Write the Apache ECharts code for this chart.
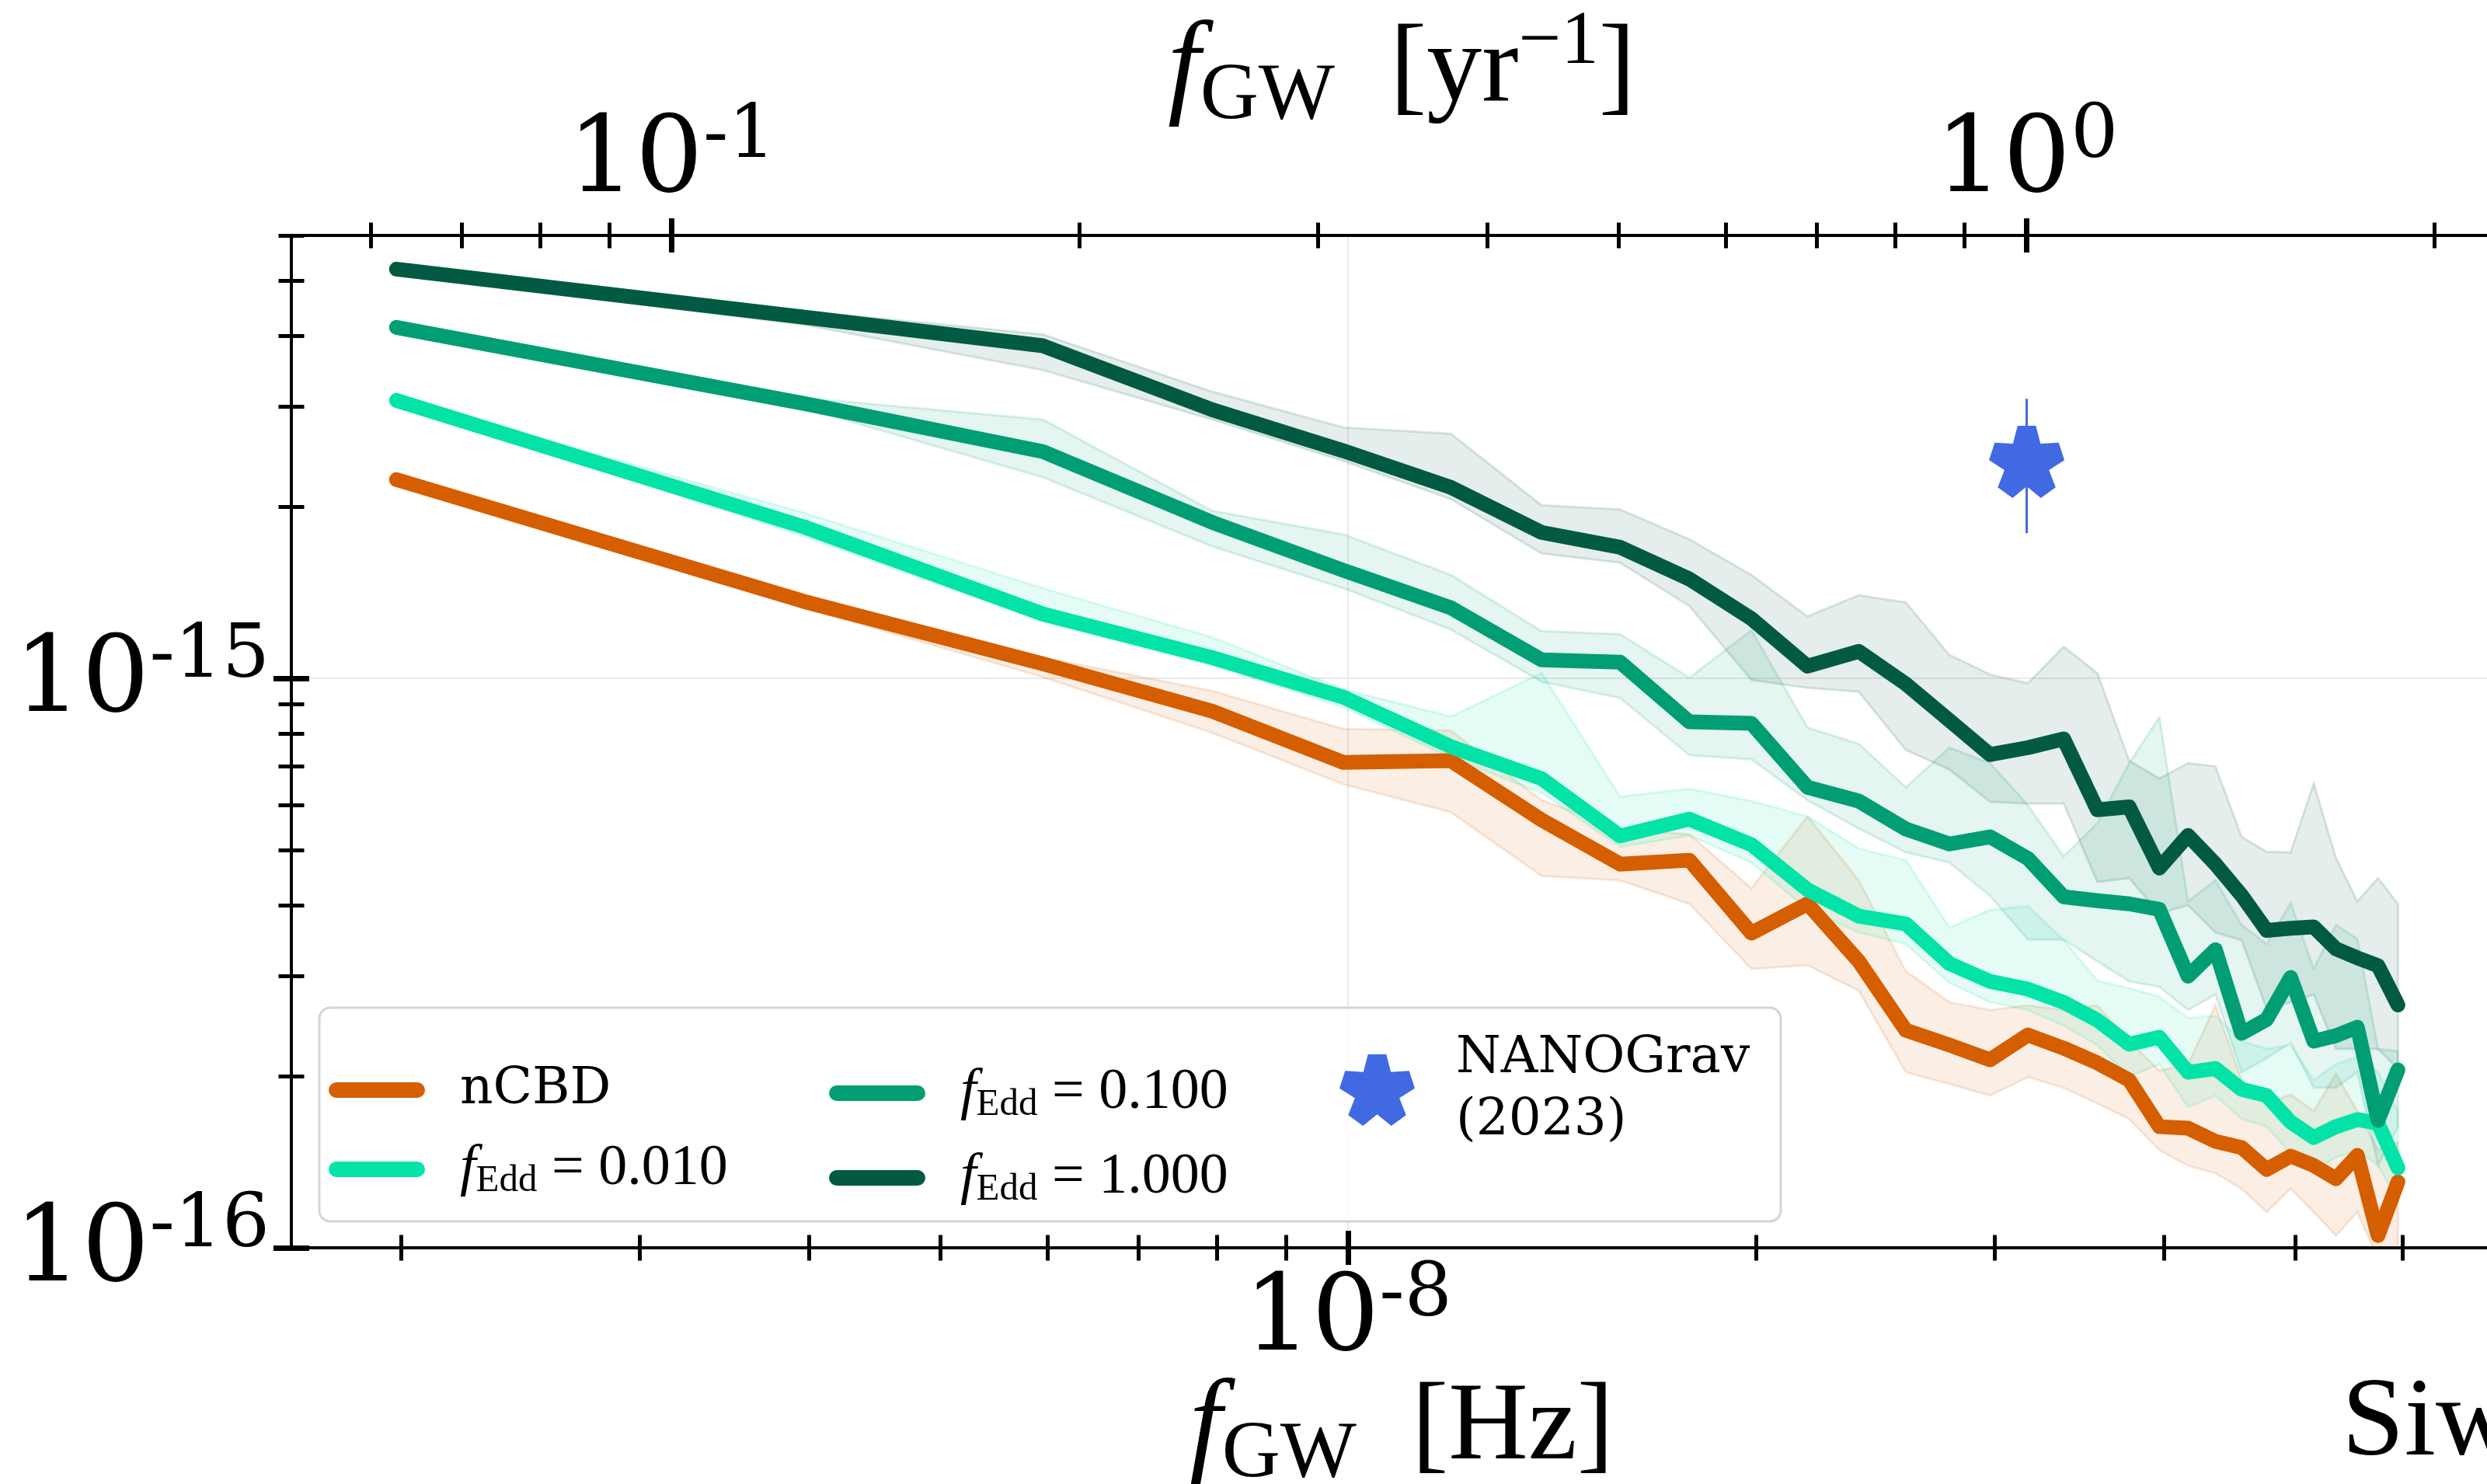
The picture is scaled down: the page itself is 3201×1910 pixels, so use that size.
<!DOCTYPE html>
<html><head><meta charset="utf-8">
<script src="https://cdn.jsdelivr.net/npm/echarts@6/dist/echarts.min.js"></script>
<style>html,body{margin:0;padding:0;background:#fff}#c{width:3201px;height:1910px}</style>
</head><body><div id="c"></div>
<script>
// ---------------- data ----------------
const freqHz = [1.985e-9, 3.970e-9, 5.955e-9, 7.940e-9, 9.925e-9, 11.91e-9, 13.895e-9, 15.88e-9, 17.865e-9, 19.85e-9,
  21.835e-9, 23.82e-9, 25.805e-9, 27.79e-9, 29.775e-9, 31.76e-9, 33.745e-9, 35.73e-9, 37.715e-9, 39.70e-9,
  41.685e-9, 43.67e-9, 45.655e-9, 47.64e-9, 49.625e-9, 51.61e-9, 53.595e-9, 55.58e-9, 57.565e-9, 59.55e-9];

const hc_nCBD = [2.235e-15, 1.365e-15, 1.061e-15, 0.876e-15, 0.712e-15, 0.717e-15, 0.5645e-15, 0.472e-15, 0.4795e-15, 0.357e-15,
  0.402e-15, 0.3187e-15, 0.241e-15, 0.227e-15, 0.2139e-15, 0.2365e-15, 0.2242e-15, 0.2112e-15, 0.1971e-15, 0.1632e-15,
  0.1622e-15, 0.1538e-15, 0.150e-15, 0.1373e-15, 0.1449e-15, 0.1395e-15, 0.1322e-15, 0.1453e-15, 0.1051e-15, 0.1306e-15];
const lo_nCBD = [2.20e-15, 1.331e-15, 1.006e-15, 0.803e-15, 0.652e-15, 0.5825e-15, 0.450e-15, 0.442e-15, 0.402e-15, 0.309e-15,
  0.3137e-15, 0.283e-15, 0.2034e-15, 0.194e-15, 0.1851e-15, 0.1996e-15, 0.191e-15, 0.1794e-15, 0.1684e-15, 0.1485e-15,
  0.1395e-15, 0.1352e-15, 0.127e-15, 0.1156e-15, 0.127e-15, 0.1156e-15, 0.1051e-15, 0.1156e-15, 0.0957e-15, 0.0987e-15];
const hi_nCBD = [2.27e-15, 1.391e-15, 1.088e-15, 0.951e-15, 0.815e-15, 0.810e-15, 0.611e-15, 0.545e-15, 0.532e-15, 0.428e-15,
  0.572e-15, 0.442e-15, 0.306e-15, 0.270e-15, 0.2616e-15, 0.2665e-15, 0.2616e-15, 0.2665e-15, 0.2306e-15, 0.2047e-15,
  0.210e-15, 0.2665e-15, 0.197e-15, 0.1794e-15, 0.1857e-15, 0.1738e-15, 0.202e-15, 0.1738e-15, 0.1485e-15, 0.1533e-15];

const hc_f001 = [3.079e-15, 1.845e-15, 1.298e-15, 1.088e-15, 0.927e-15, 0.759e-15, 0.667e-15, 0.529e-15, 0.566e-15, 0.5105e-15,
  0.4255e-15, 0.3825e-15, 0.3706e-15, 0.3157e-15, 0.2937e-15, 0.2847e-15, 0.2698e-15, 0.2511e-15, 0.2278e-15, 0.2343e-15,
  0.2034e-15, 0.2065e-15, 0.1898e-15, 0.1851e-15, 0.1663e-15, 0.1562e-15, 0.1632e-15, 0.1680e-15, 0.1654e-15, 0.1382e-15];
const lo_f001 = [3.05e-15, 1.777e-15, 1.258e-15, 1.055e-15, 0.890e-15, 0.726e-15, 0.630e-15, 0.506e-15, 0.530e-15, 0.475e-15,
  0.393e-15, 0.358e-15, 0.3415e-15, 0.292e-15, 0.270e-15, 0.2616e-15, 0.2456e-15, 0.227e-15, 0.200e-15, 0.210e-15,
  0.1766e-15, 0.1851e-15, 0.1684e-15, 0.1632e-15, 0.1463e-15, 0.1373e-15, 0.144e-15, 0.1485e-15, 0.1395e-15, 0.1211e-15];
const hi_f001 = [3.11e-15, 1.953e-15, 1.44e-15, 1.181e-15, 0.957e-15, 0.857e-15, 1.022e-15, 0.620e-15, 0.640e-15, 0.609e-15,
  0.572e-15, 0.5027e-15, 0.4795e-15, 0.365e-15, 0.392e-15, 0.398e-15, 0.347e-15, 0.2947e-15, 0.2856e-15, 0.276e-15,
  0.2533e-15, 0.2557e-15, 0.2306e-15, 0.2235e-15, 0.227e-15, 0.197e-15, 0.210e-15, 0.2166e-15, 0.2034e-15, 0.1738e-15];

const hc_f01 = [4.137e-15, 3.04e-15, 2.503e-15, 1.880e-15, 1.548e-15, 1.331e-15, 1.078e-15, 1.068e-15, 0.839e-15, 0.834e-15,
  0.644e-15, 0.609e-15, 0.544e-15, 0.512e-15, 0.527e-15, 0.4826e-15, 0.4135e-15, 0.407e-15, 0.402e-15, 0.393e-15,
  0.300e-15, 0.334e-15, 0.238e-15, 0.2518e-15, 0.2984e-15, 0.2306e-15, 0.2358e-15, 0.2441e-15, 0.1674e-15, 0.2053e-15];
const lo_f01 = [4.07e-15, 2.985e-15, 2.256e-15, 1.706e-15, 1.44e-15, 1.219e-15, 0.987e-15, 0.924e-15, 0.733e-15, 0.721e-15,
  0.611e-15, 0.545e-15, 0.495e-15, 0.475e-15, 0.415e-15, 0.348e-15, 0.348e-15, 0.3187e-15, 0.2937e-15, 0.2873e-15,
  0.2616e-15, 0.2785e-15, 0.2034e-15, 0.2153e-15, 0.2292e-15, 0.191e-15, 0.191e-15, 0.2034e-15, 0.1395e-15, 0.1632e-15];
const hi_f01 = [4.20e-15, 3.11e-15, 2.85e-15, 1.97e-15, 1.79e-15, 1.52e-15, 1.211e-15, 1.196e-15, 1.003e-15, 1.215e-15,
  0.820e-15, 0.768e-15, 0.644e-15, 0.756e-15, 0.710e-15, 0.599e-15, 0.487e-15, 0.557e-15, 0.710e-15, 0.855e-15,
  0.406e-15, 0.442e-15, 0.369e-15, 0.3415e-15, 0.4035e-15, 0.309e-15, 0.369e-15, 0.349e-15, 0.2235e-15, 0.2215e-15];

const hc_f1 = [5.236e-15, 4.31e-15, 3.84e-15, 2.965e-15, 2.51e-15, 2.166e-15, 1.805e-15, 1.70e-15, 1.495e-15, 1.274e-15,
  1.051e-15, 1.116e-15, 0.978e-15, 0.844e-15, 0.735e-15, 0.756e-15, 0.783e-15, 0.588e-15, 0.595e-15, 0.4646e-15,
  0.530e-15, 0.472e-15, 0.416e-15, 0.361e-15, 0.364e-15, 0.366e-15, 0.335e-15, 0.323e-15, 0.313e-15, 0.267e-15];
const lo_f1 = [5.14e-15, 4.18e-15, 3.48e-15, 2.85e-15, 2.41e-15, 2.066e-15, 1.658e-15, 1.597e-15, 1.34e-15, 0.994e-15,
  0.963e-15, 0.948e-15, 0.749e-15, 0.692e-15, 0.607e-15, 0.603e-15, 0.603e-15, 0.439e-15, 0.446e-15, 0.387e-15,
  0.3996e-15, 0.358e-15, 0.347e-15, 0.263e-15, 0.270e-15, 0.2785e-15, 0.2235e-15, 0.2235e-15, 0.2235e-15, 0.2065e-15];
const hi_f1 = [5.34e-15, 4.42e-15, 4.02e-15, 3.19e-15, 2.76e-15, 2.69e-15, 2.015e-15, 1.98e-15, 1.755e-15, 1.52e-15,
  1.285e-15, 1.40e-15, 1.36e-15, 1.10e-15, 1.016e-15, 0.981e-15, 1.137e-15, 1.022e-15, 0.717e-15, 0.667e-15,
  0.710e-15, 0.701e-15, 0.527e-15, 0.496e-15, 0.495e-15, 0.654e-15, 0.484e-15, 0.406e-15, 0.446e-15, 0.402e-15];

// NANOGrav (2023) point: f = 1/yr
const ng_freq = [3.169e-8];
const ng_amp = [2.4e-15];
const ng_err_lo = [1.8e-15];
const ng_err_hi = [3.1e-15];

// axis ranges and ticks
const X_MIN = 1.6605e-9, X_MAX = 6.928e-8;
const Y_MIN = 1e-16, Y_MAX = 6e-15;
const YEAR_S = 3.15576e7;
const bottomMajor = [1e-8];
const bottomMinor = [2e-9, 3e-9, 4e-9, 5e-9, 6e-9, 7e-9, 8e-9, 9e-9, 2e-8, 3e-8, 4e-8, 5e-8, 6e-8];
const topMajor = [0.1, 1];
const topMinor = [0.06, 0.07, 0.08, 0.09, 0.2, 0.3, 0.4, 0.5, 0.6, 0.7, 0.8, 0.9, 2];
const leftMajor = [1e-16, 1e-15];
const leftMinor = [2e-16, 3e-16, 4e-16, 5e-16, 6e-16, 7e-16, 8e-16, 9e-16, 2e-15, 3e-15, 4e-15, 5e-15, 6e-15];

// ---------------- styles ----------------
const C_NCBD = '#D55E00', C_001 = '#03E3A8', C_01 = '#029E73', C_1 = '#035A42', C_NG = '#4169E1';
function rgba(hex, a) {
  const n = parseInt(hex.slice(1), 16);
  return 'rgba(' + ((n >> 16) & 255) + ',' + ((n >> 8) & 255) + ',' + (n & 255) + ',' + a + ')';
}
function starPath() {
  const R = 50, r = 31, d = 14 * Math.PI / 180, pts = [];
  for (let i = 0; i < 5; i++) {
    const a = -Math.PI / 2 + i * 2 * Math.PI / 5;
    pts.push([R * Math.cos(a - d), R * Math.sin(a - d)]);
    pts.push([R * Math.cos(a + d), R * Math.sin(a + d)]);
    const b = a + Math.PI / 5;
    pts.push([r * Math.cos(b), r * Math.sin(b)]);
  }
  return 'path://M' + pts.map(p => (p[0] + 50).toFixed(2) + ',' + (p[1] + 50).toFixed(2)).join('L') + 'Z';
}
const STAR = starPath();
const PILL = 'path://M10,0L114,0A10,10,0,0,1,114,20L10,20A10,10,0,0,1,10,0Z';

const TICK_FONT = 'DejaVu Serif';
const tickRich = {
  b: {fontFamily: TICK_FONT, fontSize: 137, lineHeight: 150, verticalAlign: 'bottom', color: '#000'},
  s: {fontFamily: TICK_FONT, fontSize: 96, lineHeight: 96, verticalAlign: 'top', color: '#000'}
};
function powLabel(v) {
  const e = Math.round(Math.log10(v));
  return '{b|10}{s|' + e + '}';
}

function mainAxis(pos, min, max, labels, margin, split) {
  return {
    type: 'log', position: pos, min: min, max: max, logBase: 10,
    axisLine: {show: true, onZero: false, lineStyle: {color: '#000', width: 4}},
    axisTick: {show: false, customValues: labels},
    minorTick: {show: false},
    axisLabel: {show: true, customValues: labels, formatter: powLabel, margin: margin, rich: tickRich, color: '#000'},
    splitLine: {show: split, lineStyle: {color: '#e9e9e9', width: 2}},
    minorSplitLine: {show: false}
  };
}
function tickAxis(pos, min, max, vals, half, width) {
  return {
    type: 'log', position: pos, min: min, max: max, logBase: 10, offset: -half,
    axisLine: {show: false, onZero: false},
    axisTick: {show: true, inside: false, length: 2 * half, customValues: vals, lineStyle: {color: '#000', width: width}},
    minorTick: {show: false},
    axisLabel: {show: false},
    splitLine: {show: false},
    minorSplitLine: {show: false}
  };
}

function bandSeries(lo, hi, color) {
  return {
    type: 'custom', xAxisIndex: 0, yAxisIndex: 0, z: 1, silent: true, clip: true,
    data: freqHz.map((f, i) => [f, lo[i], hi[i]]),
    encode: {x: 0, y: [1, 2]},
    renderItem: function (params, api) {
      if (params.dataIndex !== 0) return null;
      const pts = [];
      for (let i = 0; i < freqHz.length; i++) pts.push(api.coord([freqHz[i], hi[i]]));
      for (let i = freqHz.length - 1; i >= 0; i--) pts.push(api.coord([freqHz[i], lo[i]]));
      return {type: 'polygon', shape: {points: pts},
        style: {fill: rgba(color, 0.1), stroke: rgba(color, 0.14), lineWidth: 3}};
    }
  };
}
function lineSeries(name, vals, color) {
  return {
    name: name, type: 'line', xAxisIndex: 0, yAxisIndex: 0, z: 2, silent: true,
    data: freqHz.map((f, i) => [f, vals[i]]),
    showSymbol: false, symbol: 'none', color: color,
    itemStyle: {color: color},
    lineStyle: {color: color, width: 19, cap: 'round', join: 'round'}
  };
}

const LEG_TEXT = {
  'nCBD': '{n|nCBD}',
  'fEdd=0.010': '{it|f}{sub|Edd}{m| = 0.010}',
  'fEdd=0.100': '{it|f}{sub|Edd}{m| = 0.100}',
  'fEdd=1.000': '{it|f}{sub|Edd}{m| = 1.000}',
  'NANOGrav': '{n|NANOGrav}\n{n|(2023)}'
};
const legRich = {
  n: {fontFamily: 'DejaVu Serif', fontSize: 66, lineHeight: 80, color: '#000'},
  it: {fontFamily: 'Liberation Serif', fontStyle: 'italic', fontSize: 74, lineHeight: 80, color: '#000'},
  sub: {fontFamily: 'Liberation Serif', fontSize: 49, lineHeight: 46, verticalAlign: 'bottom', color: '#000'},
  m: {fontFamily: 'Liberation Serif', fontSize: 74, lineHeight: 80, color: '#000'}
};
function legend(items, left, top, w, h, gap, padLeft) {
  return {
    data: items, orient: 'vertical', left: left, top: top, itemWidth: w, itemHeight: h, itemGap: gap,
    padding: 0, selectedMode: false, z: 5,
    itemStyle: {borderWidth: 0, opacity: 1},
    formatter: name => LEG_TEXT[name],
    textStyle: {rich: legRich, padding: [0, 0, 0, padLeft], color: '#000'}
  };
}

const titleRich = {
  f: {fontFamily: 'Liberation Serif', fontStyle: 'italic', fontSize: 150, lineHeight: 170, verticalAlign: 'middle', fill: '#000'},
  sub: {fontFamily: 'Liberation Serif', fontSize: 104, lineHeight: 97, verticalAlign: 'bottom', fill: '#000'},
  sup: {fontFamily: 'Liberation Serif', fontSize: 97, lineHeight: 90, verticalAlign: 'top', fill: '#000'},
  n: {fontFamily: 'Liberation Serif', fontSize: 142, lineHeight: 170, verticalAlign: 'middle', fill: '#000'}
};

const chart = echarts.init(document.getElementById('c'), null, {renderer: 'canvas', width: 3201, height: 1910});
chart.setOption({
  animation: false,
  backgroundColor: '#ffffff',
  grid: {left: 375, right: 0, top: 303, bottom: 304, containLabel: false},
  xAxis: [
    mainAxis('bottom', X_MIN, X_MAX, bottomMajor, 14, true),
    tickAxis('bottom', X_MIN, X_MAX, bottomMajor, 22, 7),
    tickAxis('bottom', X_MIN, X_MAX, bottomMinor, 16.5, 5),
    mainAxis('top', X_MIN * YEAR_S, X_MAX * YEAR_S, topMajor, 24, false),
    tickAxis('top', X_MIN * YEAR_S, X_MAX * YEAR_S, topMajor, 22, 7),
    tickAxis('top', X_MIN * YEAR_S, X_MAX * YEAR_S, topMinor, 16.5, 5)
  ],
  yAxis: [
    mainAxis('left', Y_MIN, Y_MAX, leftMajor, 28, true),
    tickAxis('left', Y_MIN, Y_MAX, leftMajor, 23, 7),
    tickAxis('left', Y_MIN, Y_MAX, leftMinor, 16.5, 5)
  ],
  legend: [
    legend([{name: 'nCBD', icon: PILL}, {name: 'fEdd=0.010', icon: PILL}], 423, 1370, 124, 20, 32, 40),
    legend([{name: 'fEdd=0.100', icon: PILL}, {name: 'fEdd=1.000', icon: PILL}], 1067, 1370, 124, 20, 32, 40),
    legend([{name: 'NANOGrav', icon: STAR}], 1724, 1330, 97, 93, 0, 48)
  ],
  graphic: [
    {type: 'rect', z: 4, silent: true,
      shape: {x: 411, y: 1297, width: 1881, height: 275, r: 14},
      style: {fill: 'rgba(255,255,255,0.8)', stroke: '#d5d5d5', lineWidth: 3}},
    {type: 'text', z: 6, x: 1804, y: 92, silent: true,
      style: {text: '{f|f}{sub|GW}{n|  [yr}{sup|\u22121}{n|]}', rich: titleRich, align: 'center', verticalAlign: 'middle', textAlign: 'center', textVerticalAlign: 'middle'}},
    {type: 'text', z: 6, x: 1804, y: 1840, silent: true,
      style: {text: '{f|f}{sub|GW}{n|  [Hz]}', rich: titleRich, align: 'center', verticalAlign: 'middle', textAlign: 'center', textVerticalAlign: 'middle'}},
    {type: 'text', z: 6, x: 3014, y: 1834, silent: true,
      style: {text: 'Siw', font: '145px "Liberation Serif"', fill: '#000', align: 'left', verticalAlign: 'middle', textAlign: 'left', textVerticalAlign: 'middle'}}
  ],
  series: [
    bandSeries(lo_nCBD, hi_nCBD, C_NCBD),
    bandSeries(lo_f001, hi_f001, C_001),
    bandSeries(lo_f01, hi_f01, C_01),
    bandSeries(lo_f1, hi_f1, C_1),
    lineSeries('nCBD', hc_nCBD, C_NCBD),
    lineSeries('fEdd=0.010', hc_f001, C_001),
    lineSeries('fEdd=0.100', hc_f01, C_01),
    lineSeries('fEdd=1.000', hc_f1, C_1),
    {name: 'NANOGrav error', type: 'line', xAxisIndex: 0, yAxisIndex: 0, z: 3, silent: true,
      data: [[ng_freq[0], ng_err_lo[0]], [ng_freq[0], ng_err_hi[0]]],
      showSymbol: false, symbol: 'none', color: C_NG, lineStyle: {color: C_NG, width: 3, opacity: 1}},
    {name: 'NANOGrav', type: 'scatter', xAxisIndex: 0, yAxisIndex: 0, z: 4, silent: true,
      data: ng_freq.map((f, i) => [f, ng_amp[i]]),
      symbol: STAR, symbolSize: [97, 93], color: C_NG, itemStyle: {color: C_NG, opacity: 1}}
  ]
});
</script>
</body></html>
